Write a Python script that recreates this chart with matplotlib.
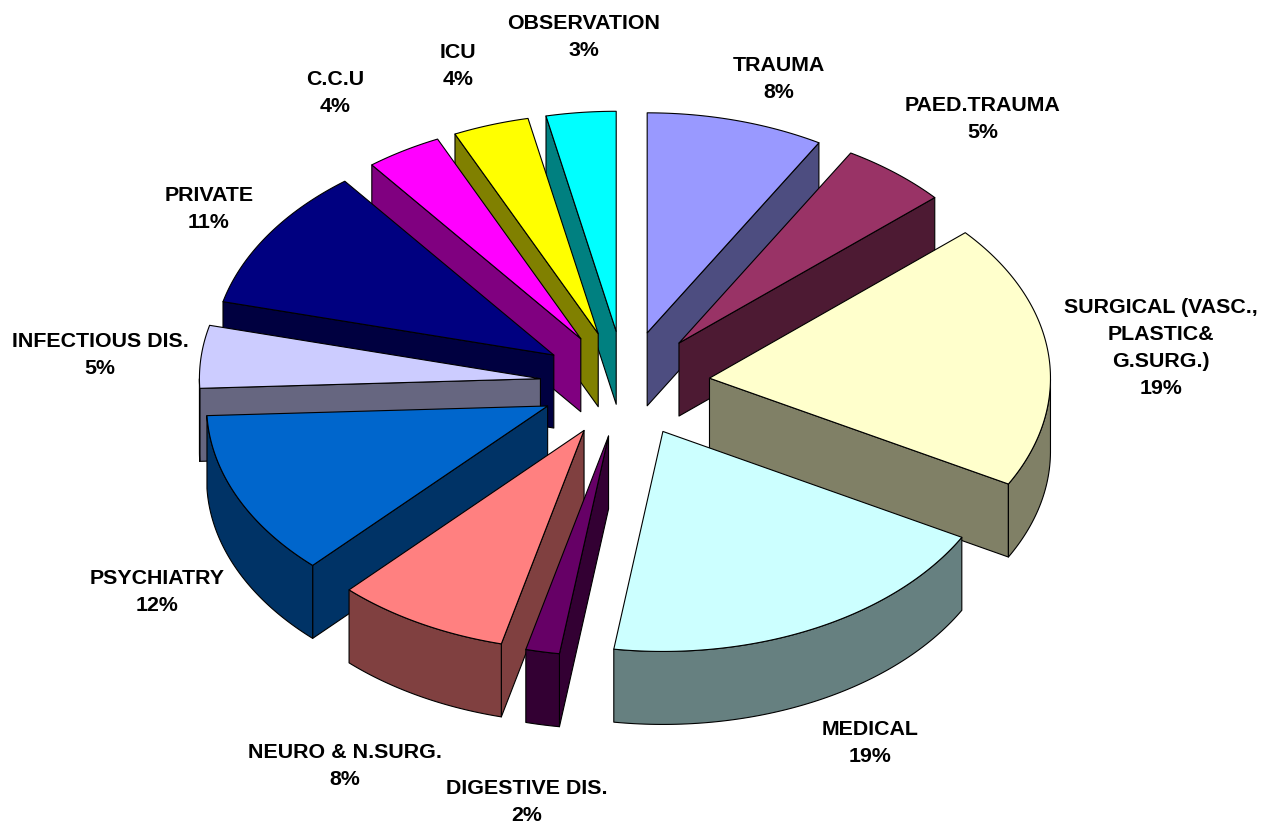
import numpy as np
import matplotlib
matplotlib.use("Agg")
import matplotlib.pyplot as plt

categories = ["TRAUMA", "PAED.TRAUMA", "SURGICAL (VASC.,\nPLASTIC&\nG.SURG.)", "MEDICAL",
              "DIGESTIVE DIS.", "NEURO & N.SURG.", "PSYCHIATRY", "INFECTIOUS DIS.",
              "PRIVATE", "C.C.U", "ICU", "OBSERVATION"]
values = [8.4, 5.1, 19.49, 19.31, 1.6, 8.2, 12.2, 4.6, 10.6, 3.6, 3.6, 3.3]
colors = ["#9999FF", "#993366", "#FFFFCC", "#CCFFFF", "#660066", "#FF8080",
          "#0066CC", "#CCCCFF", "#000080", "#FF00FF", "#FFFF00", "#00FFFF"]
label_centers = [(779, 79), (983, 119), (1161, 348), (870, 743), (527, 802), (345, 766),
                 (157, 592), (100, 355), (209, 209), (335, 93), (458, 66), (584, 37)]

CX, CY = 625, 384          # pie centre
RX, RY = 341, 220          # radii of the tilted top ellipse
EX, EY = 85, 53            # explosion offset
DEPTH = 73                 # thickness of the pie

fig = plt.figure(figsize=(12.63, 8.34), dpi=100)
ax = fig.add_axes([0, 0, 1, 1])
ax.set_xlim(0, 1263)
ax.set_ylim(834, 0)
ax.axis("off")


def shade(c):
    return tuple(v / 2 for v in matplotlib.colors.to_rgb(c))


def face(xs, ys, color, z):
    ax.fill(xs, ys, facecolor=color, edgecolor="black", linewidth=0.8, joinstyle="round", zorder=z)


cum = np.concatenate([[0], np.cumsum(values)]) / sum(values) * 2 * np.pi
mids = (cum[:-1] + cum[1:]) / 2
order = np.argsort(-np.cos(mids))

for rank, i in enumerate(order):
    a0, a1 = cum[i], cum[i + 1]
    ax0 = CX + EX * np.sin(mids[i])
    ay0 = CY - EY * np.cos(mids[i])
    t = np.linspace(a0, a1, 80)
    rx = ax0 + RX * np.sin(t)
    ry = ay0 - RY * np.cos(t)
    side = shade(colors[i])
    z = 10 + rank

    # radial walls: visible when the rest of the top face lies above the edge on screen
    ends = [(rx[0], ry[0], rx[-1], ry[-1]), (rx[-1], ry[-1], rx[0], ry[0])]
    for px, py, qx, qy in ends:
        ex, ey = px - ax0, py - ay0
        ox, oy = qx - ax0, qy - ay0
        if abs(ex) > 1e-6 and oy < ey / ex * ox:
            face([ax0, px, px, ax0], [ay0, py, py + DEPTH, ay0 + DEPTH], side, z)

    # outer rim, lower half of the ellipse only
    lower = np.cos(t) < 0
    if lower.any():
        xs, ys = rx[lower], ry[lower]
        face(np.r_[xs, xs[::-1]], np.r_[ys, ys[::-1] + DEPTH], side, z)

    face(np.r_[ax0, rx], np.r_[ay0, ry], colors[i], z)

for name, v, (x, y) in zip(categories, values, label_centers):
    ax.text(x, y, f"{name}\n{round(v)}%", ha="center", va="center", fontsize=15.4,
            fontweight="bold", family="Liberation Sans", linespacing=1.52, color="black", zorder=50)

fig.savefig("out.png", dpi=100)
